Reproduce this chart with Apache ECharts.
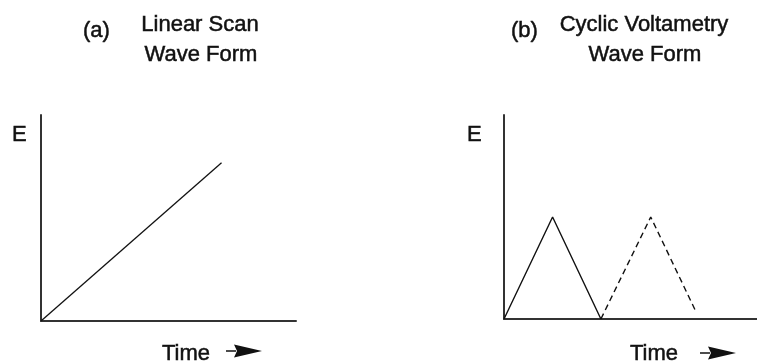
<!DOCTYPE html>
<html>
<head>
<meta charset="utf-8">
<script src="https://cdn.jsdelivr.net/npm/echarts@6/dist/echarts.min.js"></script>
<style>
  html, body { margin: 0; padding: 0; background: #fff; }
  #chart { width: 757px; height: 364px; }
</style>
</head>
<body>
<div id="chart"></div>
<script>
// Panel (a): linear potential sweep, E rises steadily with time
const linearTime = [0, 7.08];
const linearE = [0, 7.68];

// Panel (b): cyclic sweep, first cycle solid, repeated cycle dashed
const cycleTime = [0, 1.92, 3.83];
const cycleE = [0, 5.0, 0];
const repeatTime = [3.83, 5.8, 7.59];
const repeatE = [0, 5.0, 0.35];

const axisMax = 10;

const pairs = (xs, ys) => xs.map((x, i) => [x, ys[i]]);

const FONT = '"Liberation Sans", Arial, Helvetica, sans-serif';
const INK = '#111';
const AXIS = '#333';

function valueAxis(gridIndex) {
  return {
    type: 'value', gridIndex, min: 0, max: axisMax,
    axisLine: { show: true, onZero: false, lineStyle: { color: AXIS, width: 2 } },
    axisTick: { show: false }, axisLabel: { show: false }, splitLine: { show: false }
  };
}

// y is the top of the text box; a thin stroke gives the heavier print weight
function label(text, x, y, align) {
  return {
    type: 'text', x, y, silent: true,
    style: {
      text, fill: INK, stroke: INK, lineWidth: 0.5,
      font: '22px ' + FONT, align: align || 'left', verticalAlign: 'top'
    }
  };
}

// arrow next to the "Time" label: short stem plus a solid head
function timeArrow(x, y) {
  return {
    type: 'group', x, y, silent: true,
    children: [
      { type: 'line', shape: { x1: 0, y1: 0, x2: 10, y2: 0 }, style: { stroke: INK, lineWidth: 1.5 } },
      { type: 'polygon', shape: { points: [[8, -6.5], [36, 0], [8, 6.5], [11, 0]] }, style: { fill: INK } }
    ]
  };
}

const chart = echarts.init(document.getElementById('chart'));
chart.setOption({
  backgroundColor: '#fff',
  animation: false,
  grid: [
    { left: 41, top: 115, width: 255, height: 206 },
    { left: 504, top: 115, right: 0, height: 204 }
  ],
  xAxis: [valueAxis(0), valueAxis(1)],
  yAxis: [valueAxis(0), valueAxis(1)],
  series: [
    {
      type: 'line', xAxisIndex: 0, yAxisIndex: 0, symbol: 'none',
      data: pairs(linearTime, linearE),
      lineStyle: { color: INK, width: 1.3 }
    },
    {
      type: 'line', xAxisIndex: 1, yAxisIndex: 1, symbol: 'none',
      data: pairs(cycleTime, cycleE),
      lineStyle: { color: INK, width: 1.4 }
    },
    {
      type: 'line', xAxisIndex: 1, yAxisIndex: 1, symbol: 'none',
      data: pairs(repeatTime, repeatE),
      lineStyle: { color: INK, width: 1.4, type: [6, 4] }
    }
  ],
  graphic: [
    label('(a)', 83, 20),
    label('Linear Scan', 200, 14, 'center'),
    label('Wave Form', 201, 44, 'center'),
    label('E', 12, 124),
    label('Time', 162, 343),
    timeArrow(226, 351),

    label('(b)', 511, 20),
    label('Cyclic Voltametry', 644, 14, 'center'),
    label('Wave Form', 645, 44, 'center'),
    label('E', 467, 124),
    label('Time', 630, 343),
    timeArrow(700, 353)
  ]
});
</script>
</body>
</html>
